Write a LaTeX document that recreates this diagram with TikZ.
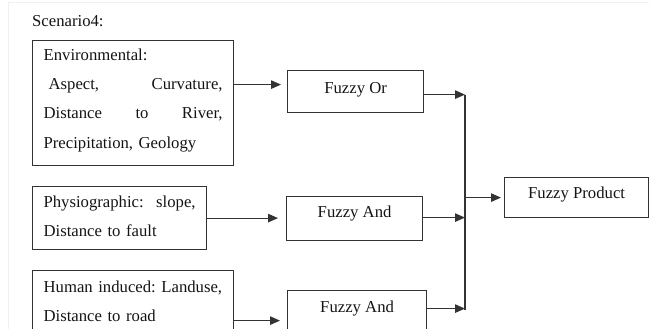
\documentclass[tikz,border=0pt]{standalone}
\usepackage{fontspec}
\setmainfont{Liberation Serif}
\usetikzlibrary{arrows.meta}
\frenchspacing
\definecolor{linec}{gray}{0.2}
\definecolor{framec}{gray}{0.94}
\tikzset{
  box/.style={draw=linec, line width=1.2pt, rectangle, inner ysep=0pt, inner xsep=11pt, anchor=north west, align=left},
  fbox/.style={draw=linec, line width=1.2pt, rectangle, inner sep=0pt, anchor=north west, align=center},
  arr/.style={draw=linec, line width=1.1pt, -{Triangle[length=10pt,width=8.5pt]}},
}
\begin{document}
\begin{tikzpicture}[x=1pt, y=-1pt, font=\fontsize{16.7}{29.2}\selectfont\frenchspacing, text=black!92]
\useasboundingbox (0,0) rectangle (649,329);
\clip (0,0) rectangle (649,329);
\draw[framec, line width=0.8pt] (8,329) |- (649,2.5);

\node[anchor=base west, inner sep=0pt] (title) at (32,26.5) {Scenario4:};

\node[box, text width=179pt, text height=20pt, text depth=105pt] (env) at (32,40)
  {Environmental:\\ \hspace*{5pt}Aspect,\hfill Curvature,\\ Distance\hfill to\hfill River,\\ Precipitation, Geology};
\node[box, text width=152pt, text height=21pt, text depth=42pt] (phys) at (32,186)
  {Physiographic:\hfill slope,\\ Distance to fault};
\node[box, text width=179pt, text height=22pt, text depth=64pt] (hum) at (32,270)
  {\mbox{Human induced: Landuse,}\\ Distance to road};

\node[fbox, minimum width=136pt, text height=22.5pt, text depth=19.5pt] (or) at (287,70) {Fuzzy Or};
\node[fbox, minimum width=136pt, text height=20.7pt, text depth=23.3pt] (and1) at (286,196) {Fuzzy And};
\node[fbox, minimum width=139pt, text height=22pt, text depth=22pt] (and2) at (287,290) {Fuzzy And};
\node[fbox, minimum width=144pt, text height=21pt, text depth=19pt] (prod) at (504,177) {Fuzzy Product};

\coordinate (btop) at (465,95);
\coordinate (bbot) at (465,310);
\draw[draw=linec, line width=1.1pt] (btop) -- (bbot);

\draw[arr, shorten >=6pt] ([yshift=18.5pt]env.east) -- ([yshift=18.5pt]env.east -| or.west);
\draw[arr, shorten >=8pt] (phys.east) -- (phys.east -| and1.west);
\draw[arr, shorten >=7pt] ([yshift=-7pt]hum.east) -- ([yshift=-7pt]hum.east -| and2.west);

\draw[arr] ([yshift=-3pt]or.east) -- ([yshift=-3pt]or.east -| btop);
\draw[arr] ([yshift=1pt]and1.east) -- ([yshift=1pt]and1.east -| btop);
\draw[arr] ([yshift=4pt]and2.east) -- ([yshift=4pt]and2.east -| btop);
\draw[arr, shorten >=3pt] (btop |- prod.west) -- (prod.west);
\end{tikzpicture}
\end{document}
